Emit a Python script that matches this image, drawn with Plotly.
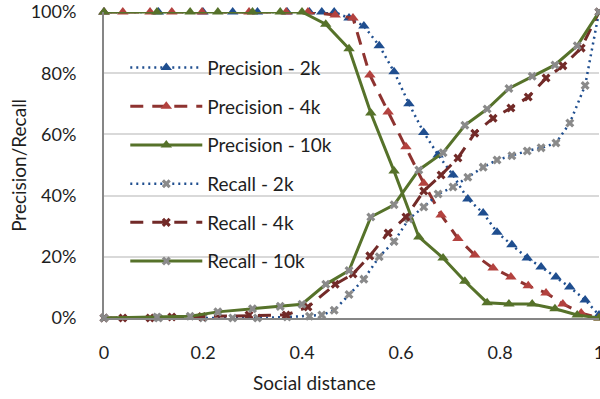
import plotly.graph_objects as go

# Social-distance thresholds sampled for each neighbourhood size
x_2k = [0, 0.11, 0.2, 0.26, 0.31, 0.37, 0.415, 0.44, 0.465, 0.495, 0.525, 0.556,
        0.586, 0.616, 0.646, 0.675, 0.705, 0.735, 0.766, 0.794, 0.824, 0.855,
        0.883, 0.913, 0.941, 0.972, 1.0]
x_4k = [0, 0.038, 0.093, 0.137, 0.198, 0.293, 0.368, 0.412, 0.467, 0.503, 0.537,
        0.574, 0.61, 0.646, 0.681, 0.715, 0.749, 0.786, 0.822, 0.857, 0.893,
        0.927, 0.964, 1.0]
x_10k = [0, 0.107, 0.174, 0.23, 0.3, 0.356, 0.4, 0.448, 0.495, 0.539, 0.586,
         0.636, 0.685, 0.729, 0.774, 0.818, 0.865, 0.911, 0.956, 1.0]

# Precision / recall values (fractions)
precision_2k = [1, 1, 1, 1, 1, 1, 1, 1, 1, 0.98, 0.954, 0.89, 0.805, 0.70, 0.606,
                0.533, 0.467, 0.389, 0.343, 0.28, 0.239, 0.196, 0.167, 0.134,
                0.101, 0.059, 0.01]
recall_2k = [0, 0, 0, 0, 0, 0.003, 0.006, 0.01, 0.025, 0.077, 0.127, 0.20, 0.25,
             0.324, 0.363, 0.405, 0.428, 0.46, 0.493, 0.516, 0.53, 0.546, 0.556,
             0.572, 0.637, 0.76, 1.0]
precision_4k = [1, 1, 1, 1, 1, 1, 1, 1, 0.99, 0.98, 0.794, 0.673, 0.56, 0.44,
                0.337, 0.26, 0.206, 0.163, 0.134, 0.105, 0.082, 0.046, 0.016, 0]
recall_4k = [0, 0, 0, 0.003, 0.005, 0.01, 0.01, 0.036, 0.11, 0.144, 0.203, 0.278,
             0.33, 0.415, 0.467, 0.523, 0.604, 0.653, 0.686, 0.722, 0.784, 0.824,
             0.882, 1.0]
precision_10k = [1, 1, 1, 1, 1, 1, 1, 0.96, 0.88, 0.67, 0.48, 0.265, 0.196, 0.12,
                 0.05, 0.046, 0.046, 0.03, 0.01, 0]
recall_10k = [0, 0.003, 0.006, 0.02, 0.03, 0.038, 0.045, 0.11, 0.155, 0.33, 0.37,
              0.484, 0.54, 0.63, 0.683, 0.75, 0.79, 0.827, 0.89, 1.0]

x_ticks = [0, 0.2, 0.4, 0.6, 0.8, 1]
x_tick_text = ["0", "0.2", "0.4", "0.6", "0.8", "1"]
y_ticks = [0, 0.2, 0.4, 0.6, 0.8, 1.0]
y_tick_text = ["0%", "20%", "40%", "60%", "80%", "100%"]

BLUE = "#1F4E8F"
RED_LINE = "#8E3330"
RED_MARK = "#B3423F"
DARK_RED = "#722A28"
GREEN = "#56722A"
GRAY = "#8A8A8A"
TEXT = "#1E1E1E"
FONT = "Lato, 'Open Sans', sans-serif"

series = [
    ("Precision - 2k", x_2k, precision_2k, BLUE, "2px,4px", 2.5, "triangle-up", BLUE, 10),
    ("Precision - 4k", x_4k, precision_4k, RED_LINE, "13px,9px", 3, "triangle-up", RED_MARK, 10),
    ("Precision - 10k", x_10k, precision_10k, GREEN, "solid", 3, "triangle-up", GREEN, 10),
    ("Recall - 2k", x_2k, recall_2k, BLUE, "2px,4px", 2.5, "x", GRAY, 8),
    ("Recall - 4k", x_4k, recall_4k, DARK_RED, "13px,9px", 3, "x", DARK_RED, 8),
    ("Recall - 10k", x_10k, recall_10k, GREEN, "solid", 3, "x", GRAY, 8),
]

fig = go.Figure()
for name, xs, ys, lc, dash, lw, sym, mc, ms in series:
    fig.add_trace(go.Scatter(
        x=xs, y=ys, name=name, mode="lines+markers", legendgroup=name,
        line=dict(color=lc, width=lw, dash=dash),
        marker=dict(symbol=sym, color=mc, size=ms, line=dict(width=0)),
        cliponaxis=False,
    ))

fig.update_layout(
    width=600, height=399,
    margin=dict(l=104, r=1, t=12, b=81),
    paper_bgcolor="white", plot_bgcolor="white",
    font=dict(family=FONT, size=19, color=TEXT),
    showlegend=True,
    legend=dict(
        x=0.043, y=0.88, xanchor="left", yanchor="top",
        bgcolor="rgba(0,0,0,0)", borderwidth=0,
        itemwidth=72, traceorder="grouped", tracegroupgap=11,
        font=dict(family=FONT, size=19, color=TEXT),
    ),
    xaxis=dict(
        range=[0, 1], tickvals=x_ticks, ticktext=x_tick_text,
        showgrid=False, zeroline=False, showline=True,
        linecolor="#868686", linewidth=2, ticks="", ticklabelstandoff=17,
        ticklabeloverflow="allow",
        tickfont=dict(family=FONT, size=18, color=TEXT),
        automargin=False,
    ),
    yaxis=dict(
        range=[0, 1], tickvals=y_ticks, ticktext=y_tick_text,
        showgrid=True, gridcolor="#D9D9D9", gridwidth=1.5, zeroline=False,
        showline=True, linecolor="#868686", linewidth=2, ticks="",
        ticklabelstandoff=22,
        tickfont=dict(family=FONT, size=18, color=TEXT),
        automargin=False,
    ),
    annotations=[
        dict(text="Social distance", xref="paper", yref="paper",
             x=0.426, y=-0.212, xanchor="center", yanchor="middle",
             showarrow=False, font=dict(family=FONT, size=19, color=TEXT)),
        dict(text="Precision/Recall", xref="paper", yref="paper",
             x=-0.174, y=0.5, xanchor="center", yanchor="middle",
             textangle=-90, showarrow=False,
             font=dict(family=FONT, size=19, color=TEXT)),
    ],
)

fig.write_html("out.html")
